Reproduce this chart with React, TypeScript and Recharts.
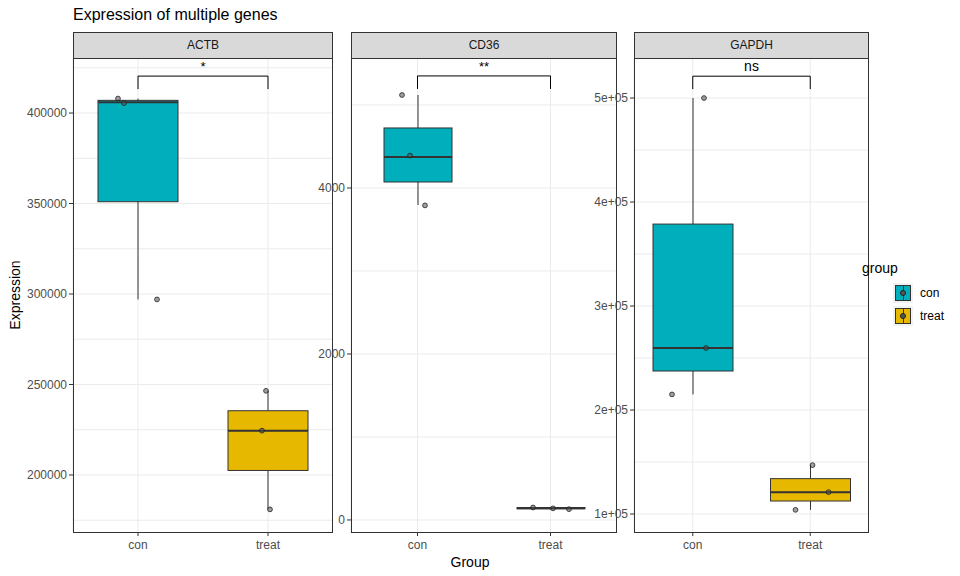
import React from 'react'
import { ComposedChart, Bar, XAxis, YAxis, CartesianGrid, ReferenceLine } from 'recharts'

const groups = ['con', 'treat']
const genes = ['ACTB', 'CD36', 'GAPDH']
const fills = ['#00AFBB', '#E7B800']

// [min, q1, median, q3, max] per group
const actbBox = [[297000, 351000, 406000, 407000, 408000], [181000, 202500, 224500, 235500, 246500]]
const cd36Box = [[3795, 4072, 4373, 4723, 5120], [125, 135, 140, 150, 155]]
const gapdhBox = [[215000, 237500, 259600, 378800, 500000], [104000, 112500, 121000, 134000, 147000]]

const actbPts = [[408000, 405500, 297000], [246500, 224500, 181000]]
const cd36Pts = [[5120, 4390, 3790], [150, 140, 130]]
const gapdhPts = [[500000, 259600, 215000], [147000, 121000, 104000]]
const jitter = [
  [[-20, -14, 19], [-2, -6, 2]],
  [[-16, -8, 7], [-18, 2, 18]],
  [[11, 13, -21], [2, 18, -15]],
]

const actbTicks = [200000, 250000, 300000, 350000, 400000]
const cd36Ticks = [0, 2000, 4000]
const gapdhTicks = [100000, 200000, 300000, 400000, 500000]
const signif = ['*', '**', 'ns']
const brackets = [[420400, 413200], [5350, 5193], [521000, 508600]]

const FONT = '"Liberation Sans", Arial, sans-serif'
const TOP = 58
const PLOT_H = 474

const panels = [
  { box: actbBox, pts: actbPts, ticks: actbTicks, domain: [168500, 430400], left: 73, width: 260, axisW: 62, barSize: 80, fmt: (v: number) => String(v) },
  { box: cd36Box, pts: cd36Pts, ticks: cd36Ticks, domain: [-145, 5566], left: 351, width: 266, axisW: 40, barSize: 68, fmt: (v: number) => String(v) },
  { box: gapdhBox, pts: gapdhPts, ticks: gapdhTicks, domain: [82700, 538500], left: 634, width: 235, axisW: 50, barSize: 80, fmt: (v: number) => `${v / 100000}e+05` },
]

function minorValues(ticks: number[], domain: number[]) {
  const step = ticks[1] - ticks[0]
  const out: number[] = []
  for (let v = ticks[0] - step * 2; v <= domain[1] + step; v += step / 2) {
    if (v >= domain[0] && v <= domain[1]) out.push(v)
  }
  return out
}

function Panel({ idx }: { idx: number }) {
  const p = panels[idx]
  const data = groups.map((g, i) => ({ group: g, stats: p.box[i], pts: p.pts[i], gi: i }))
  const ppu = PLOT_H / (p.domain[1] - p.domain[0])
  const shape = (props: any) => {
    const { x, width, payload } = props
    const [mn, q1, md, q3, mx] = payload.stats
    const yOf = (v: number) => TOP - TOP + 5 + (p.domain[1] - v) * ppu
    const cx = x + width / 2
    return (
      <g>
        <line x1={cx} x2={cx} y1={yOf(mx)} y2={yOf(mn)} stroke="#333" strokeWidth={1} />
        <rect x={x} y={yOf(q3)} width={width} height={Math.max(yOf(q1) - yOf(q3), 0.5)} fill={fills[payload.gi]} stroke="#333" strokeWidth={1} />
        <line x1={x} x2={x + width} y1={yOf(md)} y2={yOf(md)} stroke="#333" strokeWidth={2} />
        {payload.pts.map((v: number, k: number) => (
          <circle key={k} cx={cx + jitter[idx][payload.gi][k]} cy={yOf(v)} r={2.4} fill="rgba(80,80,80,0.55)" stroke="#222" strokeWidth={0.8} />
        ))}
      </g>
    )
  }
  const [by, bt] = brackets[idx]
  const tick = { fontSize: 12, fill: '#4d4d4d', fontFamily: FONT }
  return (
    <>
      <div style={{ position: 'absolute', left: p.left, top: 32, width: p.width - 2, height: 25, background: '#d9d9d9', border: '1px solid #333', fontSize: 12, fontFamily: FONT, color: '#1a1a1a', textAlign: 'center', lineHeight: '25px' }}>{genes[idx]}</div>
      <div style={{ position: 'absolute', left: p.left - p.axisW, top: TOP - 5 }}>
        <ComposedChart width={p.axisW + p.width} height={PLOT_H + 40} data={data} margin={{ top: 5, right: 0, bottom: 0, left: 0 }}>
          <CartesianGrid stroke="#ebebeb" horizontalValues={minorValues(p.ticks, p.domain)} />
          <XAxis dataKey="group" tick={{ ...tick, dy: 2 }} tickLine={{ stroke: '#333' }} tickSize={4} axisLine={false} height={35} />
          <YAxis type="number" domain={p.domain} ticks={p.ticks} tickFormatter={p.fmt} width={p.axisW} tick={tick} tickLine={{ stroke: '#333' }} tickSize={4} axisLine={false} allowDataOverflow />
          <Bar dataKey={(d: any) => [d.stats[0], d.stats[4]]} barSize={p.barSize} shape={shape} isAnimationActive={false} />
          <ReferenceLine segment={[{ x: 'con', y: by }, { x: 'treat', y: by }]} stroke="#000" label={{ value: signif[idx], position: 'top', fill: '#000', fontSize: idx === 2 ? 14 : 13, fontFamily: FONT }} />
          <ReferenceLine segment={[{ x: 'con', y: by }, { x: 'con', y: bt }]} stroke="#000" />
          <ReferenceLine segment={[{ x: 'treat', y: by }, { x: 'treat', y: bt }]} stroke="#000" />
        </ComposedChart>
      </div>
      <div style={{ position: 'absolute', left: p.left, top: TOP, width: p.width - 2, height: PLOT_H - 1, border: '1px solid #333', pointerEvents: 'none' }} />
    </>
  )
}

function LegendKey({ color, top }: { color: string; top: number }) {
  return (
    <div style={{ position: 'absolute', left: 893, top, width: 20, height: 20, background: '#f2f2f2' }}>
      <div style={{ position: 'absolute', left: 2, top: 2, width: 14, height: 14, background: color, border: '1px solid #333' }} />
      <div style={{ position: 'absolute', left: 10, top: 2, width: 1, height: 16, background: '#333' }} />
      <div style={{ position: 'absolute', left: 7, top: 7, width: 6, height: 6, borderRadius: 3, background: '#555', border: '1px solid #222', boxSizing: 'border-box' }} />
    </div>
  )
}

export default function App() {
  return (
    <div style={{ position: 'fixed', left: 0, top: 0, width: 960, height: 576, background: '#fff', fontFamily: FONT }}>
      <div style={{ position: 'absolute', left: 73, top: 6, fontSize: 16, color: '#000' }}>Expression of multiple genes</div>
      <div style={{ position: 'absolute', left: 15, top: 295, transform: 'translate(-50%,-50%) rotate(-90deg)', fontSize: 14, whiteSpace: 'nowrap' }}>Expression</div>
      <div style={{ position: 'absolute', left: 470, top: 554, transform: 'translateX(-50%)', fontSize: 14 }}>Group</div>
      {panels.map((_, i) => <Panel key={i} idx={i} />)}
      <div style={{ position: 'absolute', left: 862, top: 260, fontSize: 14 }}>group</div>
      <LegendKey color={fills[0]} top={283} />
      <LegendKey color={fills[1]} top={306} />
      <div style={{ position: 'absolute', left: 920, top: 286, fontSize: 12 }}>con</div>
      <div style={{ position: 'absolute', left: 920, top: 309, fontSize: 12 }}>treat</div>
    </div>
  )
}
